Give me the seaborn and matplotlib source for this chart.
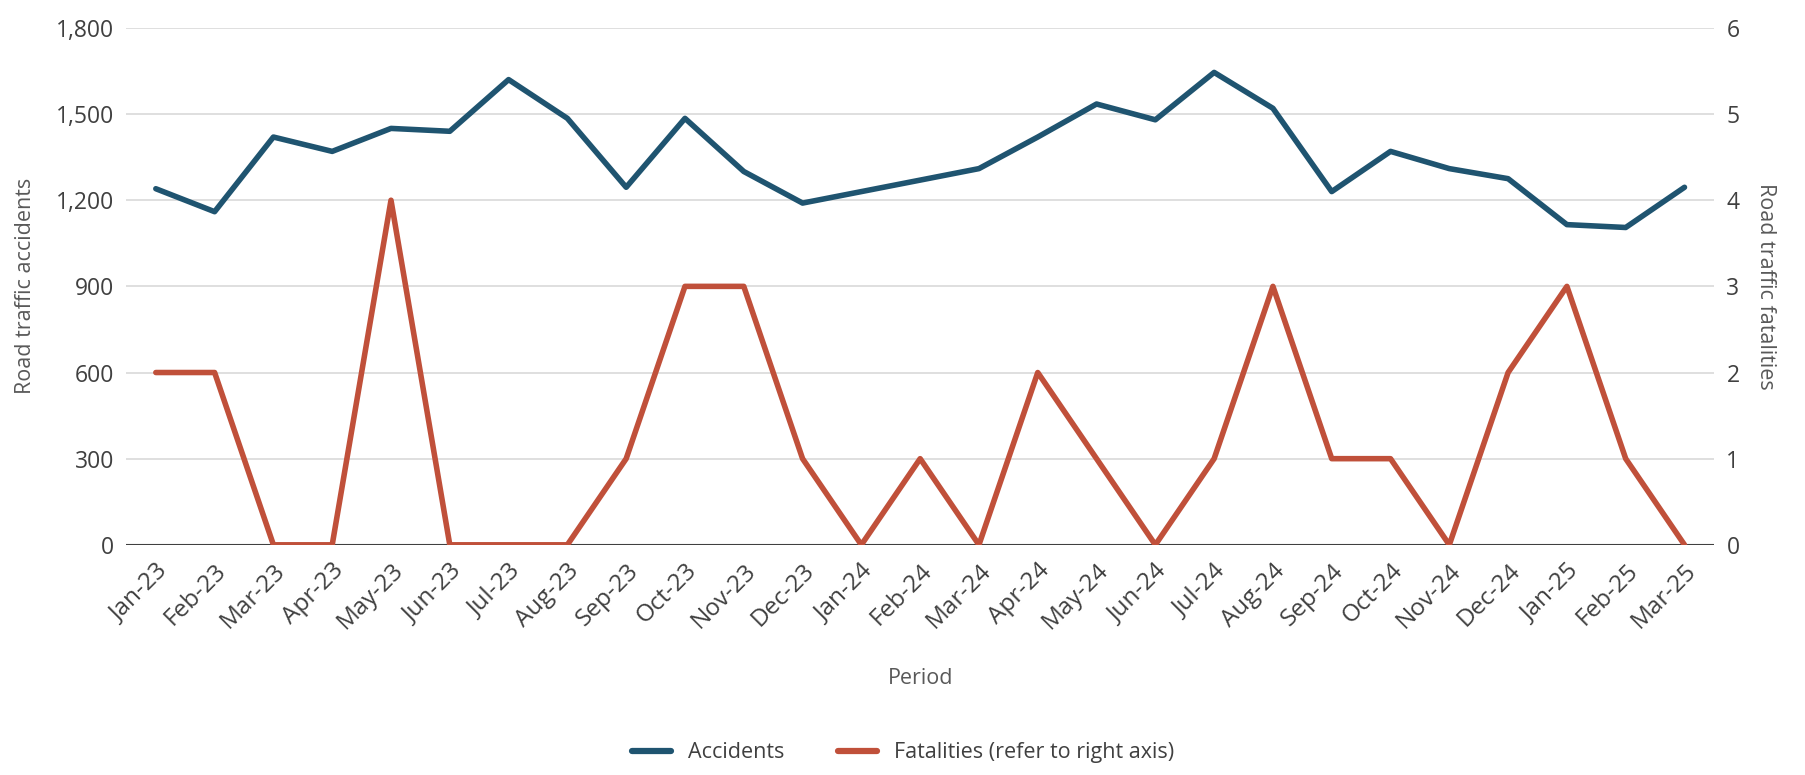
import numpy as np
import pandas as pd
import matplotlib
matplotlib.use('Agg')
import matplotlib.pyplot as plt
import matplotlib.ticker as mticker
from matplotlib.lines import Line2D
import seaborn as sns

periods = ['Jan-23', 'Feb-23', 'Mar-23', 'Apr-23', 'May-23', 'Jun-23', 'Jul-23', 'Aug-23',
           'Sep-23', 'Oct-23', 'Nov-23', 'Dec-23', 'Jan-24', 'Feb-24', 'Mar-24', 'Apr-24',
           'May-24', 'Jun-24', 'Jul-24', 'Aug-24', 'Sep-24', 'Oct-24', 'Nov-24', 'Dec-24',
           'Jan-25', 'Feb-25', 'Mar-25']
accidents = [1240, 1160, 1420, 1370, 1450, 1440, 1620, 1485, 1245, 1485, 1300, 1190, 1230,
             1270, 1310, 1420, 1535, 1480, 1645, 1520, 1230, 1370, 1310, 1275, 1115, 1105, 1245]
fatalities = [2, 2, 0, 0, 4, 0, 0, 0, 1, 3, 3, 1, 0, 1, 0, 2, 1, 0, 1, 3, 1, 1, 0, 2, 3, 1, 0]

df = pd.DataFrame({'period': periods, 'accidents': accidents, 'fatalities': fatalities})
df['idx'] = range(len(df))

sns.set_style('white')
plt.rcParams['font.family'] = ['Open Sans', 'DejaVu Sans']

c_acc = '#1f5470'
c_fat = '#c0503a'
tick_col = '#404040'
lab_col = '#595959'

fig, ax = plt.subplots(figsize=(18.06, 7.75), dpi=100)
fig.subplots_adjust(left=0.07, right=0.949, top=0.964, bottom=0.297)
ax2 = ax.twinx()

sns.lineplot(data=df, x='idx', y='accidents', ax=ax, color=c_acc, linewidth=4)
sns.lineplot(data=df, x='idx', y='fatalities', ax=ax2, color=c_fat, linewidth=4)

ax.set_ylim(0, 1800)
ax.set_yticks(np.arange(0, 1801, 300))
ax.yaxis.set_major_formatter(mticker.FuncFormatter(lambda v, p: f'{int(v):,}'))
ax2.set_ylim(0, 6)
ax2.set_yticks(range(0, 7))

ax.set_xlim(-0.5, len(df) - 0.5)
ax.set_xticks(df['idx'])
ax.set_xticklabels(periods, rotation=45, ha='right', rotation_mode='anchor')

ax.grid(axis='y', color='#d9d9d9', linewidth=1.2)
ax.set_axisbelow(True)
for a in (ax, ax2):
    for s in ['top', 'left', 'right', 'bottom']:
        a.spines[s].set_visible(False)
    a.tick_params(axis='y', length=0, labelsize=16.5, labelcolor=tick_col, pad=9)
ax.tick_params(axis='x', length=0, labelsize=17.5, labelcolor=tick_col, pad=10)
ax.axhline(0, color='#404040', linewidth=1.5, zorder=1)

ax.set_xlabel('Period', fontsize=15.5, color=lab_col, labelpad=24)
ax.set_ylabel('Road traffic accidents', fontsize=15.5, color=lab_col, labelpad=14)
ax2.set_ylabel('Road traffic fatalities', fontsize=15.5, color=lab_col, rotation=270, labelpad=26)

handles = [Line2D([0], [0], color=c_acc, linewidth=4.5, solid_capstyle='round'),
           Line2D([0], [0], color=c_fat, linewidth=4.5, solid_capstyle='round')]
fig.legend(handles, ['Accidents', 'Fatalities (refer to right axis)'], loc='lower center',
           bbox_to_anchor=(0.5, -0.01), ncol=2, frameon=False, fontsize=15.5,
           handlelength=1.8, columnspacing=2.5, labelcolor=tick_col)

fig.savefig('out.png', dpi=100)
